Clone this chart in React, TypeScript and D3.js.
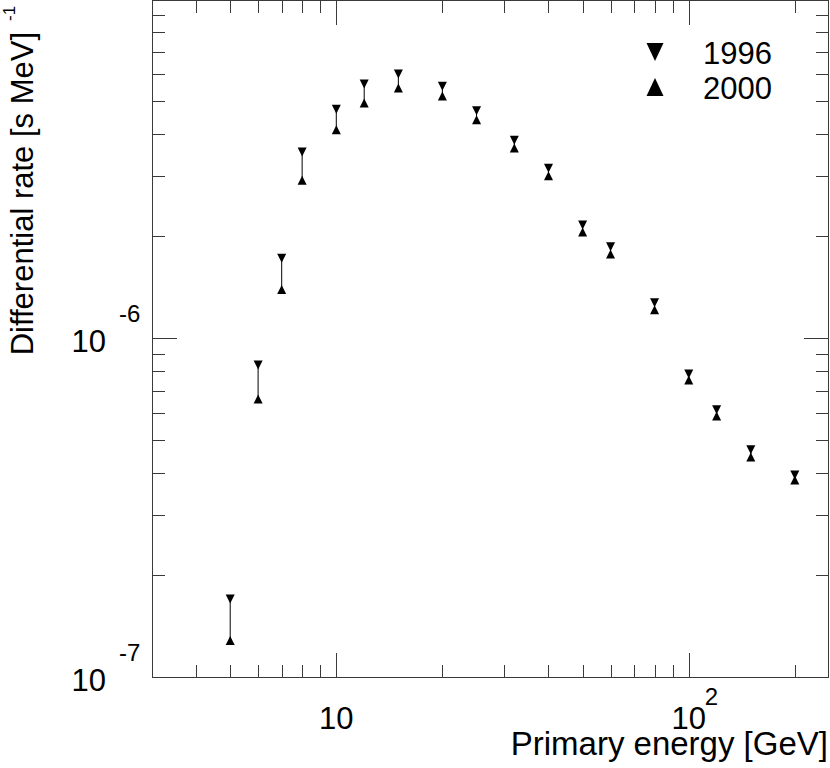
import { useEffect, useRef } from "react";
import * as d3 from "d3";

// primary energy bins [GeV]
const energy = [5, 6, 7, 8, 10, 12, 15, 20, 25, 32, 40, 50, 60, 80, 100, 120, 150, 200];
// differential rate [s MeV]^-1
const rate1996 = [
    1.71e-7, 8.38e-7, 1.73e-6, 3.56e-6, 4.76e-6, 5.65e-6, 6.05e-6, 5.57e-6, 4.71e-6,
    3.86e-6, 3.19e-6, 2.17e-6, 1.87e-6, 1.28e-6, 7.88e-7, 6.18e-7, 4.71e-7, 3.97e-7,
];
const rate2000 = [
    1.29e-7, 6.65e-7, 1.40e-6, 2.94e-6, 4.14e-6, 4.97e-6, 5.50e-6, 5.21e-6, 4.43e-6,
    3.66e-6, 3.03e-6, 2.07e-6, 1.78e-6, 1.22e-6, 7.57e-7, 5.93e-7, 4.49e-7, 3.84e-7,
];
const legendLabels = ["1996", "2000"];

const xMajor = [10, 100];
const xMajorExp = ["", "2"];
const xMinor = [4, 5, 6, 7, 8, 9, 20, 30, 40, 50, 60, 70, 80, 90, 200];
const yMajor = [1e-7, 1e-6];
const yMajorExp = ["-7", "-6"];
const yMinor = [2e-7, 3e-7, 4e-7, 5e-7, 6e-7, 7e-7, 8e-7, 9e-7, 2e-6, 3e-6, 4e-6, 5e-6, 6e-6, 7e-6, 8e-6, 9e-6];

const FONT = "'Liberation Sans', Arial, Helvetica, sans-serif";

// triangle marker, dir = 1 points up, -1 points down
function tri(cx: number, cy: number, w: number, h: number, dir: number) {
    const b = cy + (dir * h) / 2;
    const t = cy - (dir * h) / 2;
    return `M${cx - w / 2},${b}L${cx + w / 2},${b}L${cx},${t}Z`;
}

export default function App() {
    const svgRef = useRef<SVGSVGElement | null>(null);

    useEffect(() => {
        const width = 830;
        const height = 768;
        const m = { left: 152, right: 829, top: 0, bottom: 678 };

        const x = d3.scaleLog().domain([3, 250]).range([m.left, m.right]);
        const y = d3.scaleLog().domain([1e-7, 1e-5]).range([m.bottom, m.top]);

        const svg = d3.select(svgRef.current!).attr("width", width).attr("height", height);
        svg.selectAll("*").remove();

        const axisColor = "#3a3a3a";

        // frame
        svg.append("rect")
            .attr("x", m.left + 0.5)
            .attr("y", m.top + 0.5)
            .attr("width", m.right - m.left - 1)
            .attr("height", m.bottom - m.top - 1)
            .attr("fill", "none")
            .attr("stroke", axisColor);

        // x ticks (bottom + mirrored top)
        const xt = [
            ...xMajor.map((v) => ({ v, len: 25 })),
            ...xMinor.map((v) => ({ v, len: 13 })),
        ];
        const tg = svg.append("g").attr("stroke", axisColor).attr("stroke-width", 1);
        xt.forEach((t) => {
            const px = Math.round(x(t.v)) + 0.5;
            tg.append("line").attr("x1", px).attr("x2", px).attr("y1", m.bottom).attr("y2", m.bottom - t.len);
            tg.append("line").attr("x1", px).attr("x2", px).attr("y1", m.top).attr("y2", m.top + t.len);
        });

        // y ticks (left + mirrored right)
        const yt = [
            ...yMajor.map((v) => ({ v, len: 25 })),
            ...yMinor.map((v) => ({ v, len: 13 })),
        ];
        yt.forEach((t) => {
            const py = Math.round(y(t.v)) - 0.5;
            tg.append("line").attr("x1", m.left).attr("x2", m.left + t.len).attr("y1", py).attr("y2", py);
            tg.append("line").attr("x1", m.right).attr("x2", m.right - t.len).attr("y1", py).attr("y2", py);
        });

        // x tick labels
        xMajor.forEach((v, i) => {
            const px = x(v);
            svg.append("text")
                .attr("x", px)
                .attr("y", 729)
                .attr("text-anchor", "middle")
                .style("font-family", FONT)
                .style("font-size", "31px")
                .text("10");
            if (xMajorExp[i]) {
                svg.append("text")
                    .attr("x", px + 16)
                    .attr("y", 705)
                    .style("font-family", FONT)
                    .style("font-size", "24px")
                    .text(xMajorExp[i]);
            }
        });

        // y tick labels
        yMajor.forEach((v, i) => {
            const py = y(v);
            svg.append("text")
                .attr("x", 106)
                .attr("y", py + 13)
                .attr("text-anchor", "end")
                .style("font-family", FONT)
                .style("font-size", "31px")
                .text("10");
            svg.append("text")
                .attr("x", 119)
                .attr("y", py - 17)
                .style("font-family", FONT)
                .style("font-size", "24px")
                .text(yMajorExp[i]);
        });

        // axis titles
        svg.append("text")
            .attr("x", 828)
            .attr("y", 755)
            .attr("text-anchor", "end")
            .style("font-family", FONT)
            .style("font-size", "33px")
            .text("Primary energy [GeV]");

        svg.append("text")
            .attr("transform", "translate(33,32) rotate(-90)")
            .attr("text-anchor", "end")
            .style("font-family", FONT)
            .style("font-size", "31px")
            .text("Differential rate [s MeV]");
        svg.append("text")
            .attr("transform", "translate(15,21) rotate(-90)")
            .style("font-family", FONT)
            .style("font-size", "17px")
            .text("-1");

        // data: error line between the two years + markers
        const g = svg.append("g");
        energy.forEach((e, i) => {
            const px = x(e);
            g.append("line")
                .attr("x1", px)
                .attr("x2", px)
                .attr("y1", y(rate1996[i]))
                .attr("y2", y(rate2000[i]))
                .attr("stroke", "#000")
                .attr("stroke-width", 1);
        });
        g.selectAll("path.y1996")
            .data(energy)
            .enter()
            .append("path")
            .attr("class", "y1996")
            .attr("d", (e, i) => tri(x(e), y(rate1996[i]), 9, 9, -1))
            .attr("fill", "#000");
        g.selectAll("path.y2000")
            .data(energy)
            .enter()
            .append("path")
            .attr("class", "y2000")
            .attr("d", (e, i) => tri(x(e), y(rate2000[i]), 9, 9, 1))
            .attr("fill", "#000");

        // legend
        const leg = svg.append("g");
        legendLabels.forEach((lab, i) => {
            const cy = 52 + i * 35;
            leg.append("path")
                .attr("d", tri(655, cy, 17, 18, i === 0 ? -1 : 1))
                .attr("fill", "#000");
            leg.append("text")
                .attr("x", 703)
                .attr("y", cy + 12)
                .style("font-family", FONT)
                .style("font-size", "31px")
                .text(lab);
        });
    }, []);

    return (
        <svg
            ref={svgRef}
            style={{ position: "absolute", left: 0, top: 0, background: "#fff" }}
        />
    );
}
